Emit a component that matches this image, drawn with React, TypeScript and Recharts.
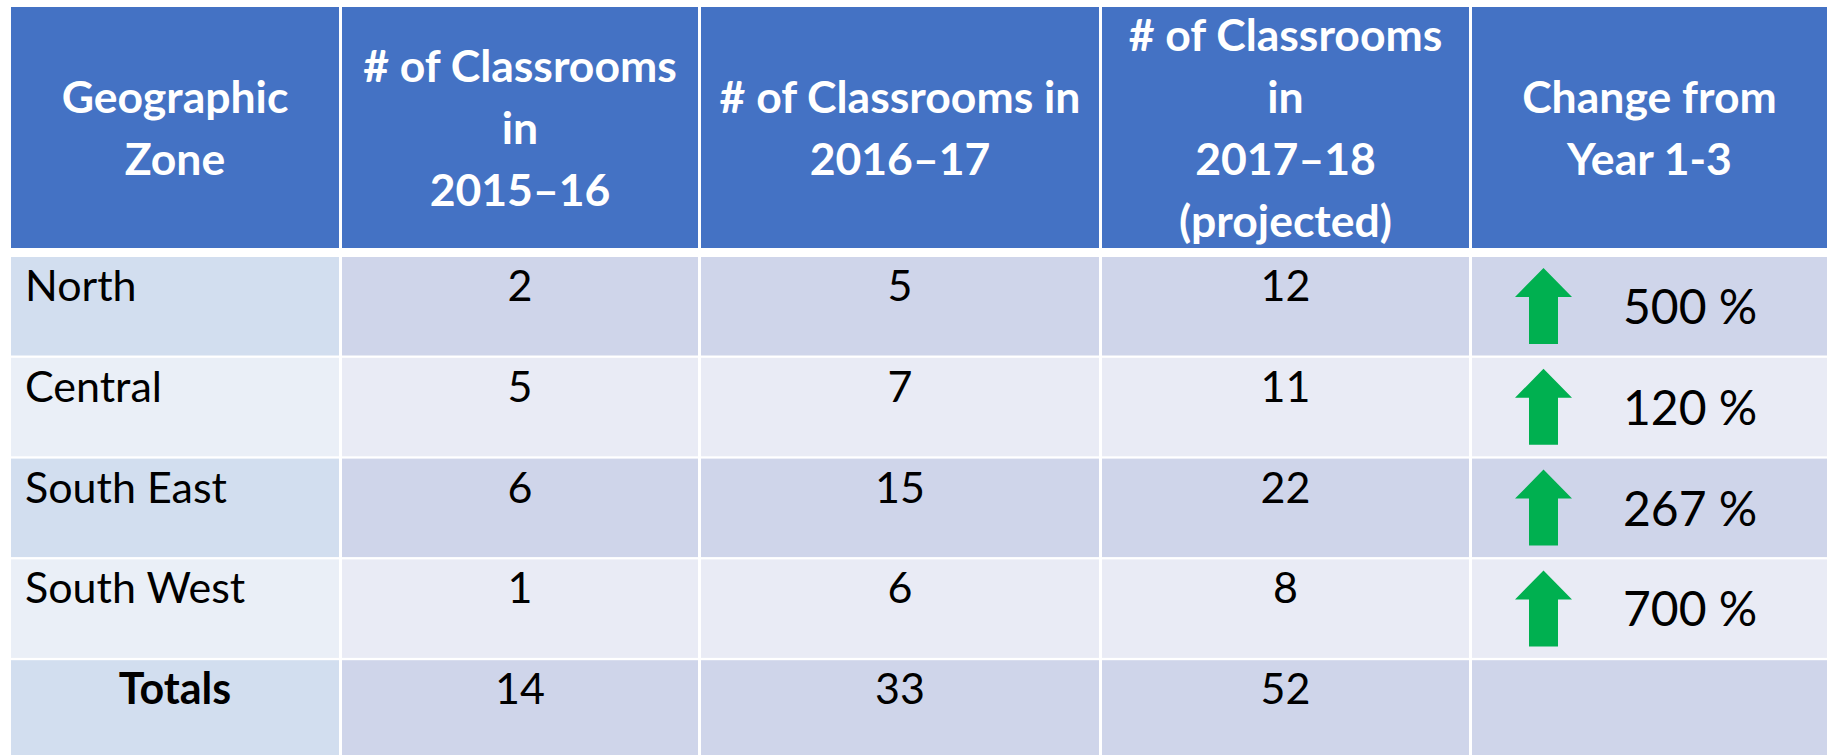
import { ComposedChart, Bar, XAxis, YAxis, Customized } from "recharts";

// table contents
const zones = ["North", "Central", "South East", "South West", "Totals"];
const classrooms2015 = [2, 5, 6, 1, 14];
const classrooms2016 = [5, 7, 15, 6, 33];
const classrooms2017 = [12, 11, 22, 8, 52];
const changeYear1to3 = [500, 120, 267, 700, null];
const headerLabels = [
  ["Geographic", "Zone"],
  ["# of Classrooms", "in", "2015–16"],
  ["# of Classrooms in", "2016–17"],
  ["# of Classrooms", "in", "2017–18", "(projected)"],
  ["Change from", "Year 1-3"],
];

const rows = zones.map((zone, i) => ({
  zone,
  y2015: classrooms2015[i],
  y2016: classrooms2016[i],
  y2017: classrooms2017[i],
  change: changeYear1to3[i],
}));

// column edges (px)
const COLS = [
  [11, 339],
  [342, 698],
  [701, 1099],
  [1102, 1469],
  [1472, 1840],
];
const HEADER_TOP = 7;
const HEADER_BOTTOM = 248;
const FONT = "Lato, 'Open Sans', sans-serif";
const HEADER_BLUE = "#4472C4";

const cellFill = (col, band) => {
  if (col === 0) return band ? "#D2DEEF" : "#EAEFF7";
  return band ? "#CFD5EA" : "#E9EBF5";
};

const RowShape = (props) => {
  const { y, height, index, payload } = props;
  const h = height - 2.5;
  const band = index % 2 === 0;
  const base = y + 44;
  const cells = [payload.y2015, payload.y2016, payload.y2017];
  const isTotal = payload.zone === "Totals";
  const arrowX = 1543.5;
  const tip = y + 11;
  return (
    <g>
      {COLS.map(([x0, x1], c) => (
        <rect key={c} x={x0} y={y} width={x1 - x0} height={h} fill={cellFill(c, band)} />
      ))}
      <text
        x={isTotal ? (COLS[0][0] + COLS[0][1]) / 2 : 25}
        y={base}
        textAnchor={isTotal ? "middle" : "start"}
        fontFamily={FONT}
        fontSize={43}
        fontWeight={isTotal ? 700 : 400}
        fill="#000"
      >
        {payload.zone}
      </text>
      {cells.map((v, c) => (
        <text
          key={c}
          x={(COLS[c + 1][0] + COLS[c + 1][1]) / 2}
          y={base}
          textAnchor="middle"
          fontFamily={FONT}
          fontSize={43}
          fill="#000"
        >
          {v}
        </text>
      ))}
      {payload.change != null && (
        <g>
          <path
            d={`M${arrowX},${tip} L${arrowX + 28.5},${tip + 29} L${arrowX + 14.5},${tip + 29} L${arrowX + 14.5},${tip + 76} L${arrowX - 14.5},${tip + 76} L${arrowX - 14.5},${tip + 29} L${arrowX - 28.5},${tip + 29} Z`}
            fill="#00B050"
          />
          <text x={1623} y={y + 67} fontFamily={FONT} fontSize={48} fill="#000">
            {`${payload.change} %`}
          </text>
        </g>
      )}
    </g>
  );
};

const Header = () => {
  const pitch = 62;
  const center = 129;
  return (
    <g>
      {COLS.map(([x0, x1], c) => {
        const lines = headerLabels[c];
        const first = center - ((lines.length - 1) * pitch) / 2 + 15;
        return (
          <g key={c}>
            <rect x={x0} y={HEADER_TOP} width={x1 - x0} height={HEADER_BOTTOM - HEADER_TOP} fill={HEADER_BLUE} />
            {lines.map((t, i) => (
              <text
                key={i}
                x={(x0 + Math.min(x1, 1827)) / 2}
                y={first + i * pitch}
                textAnchor="middle"
                fontFamily={FONT}
                fontSize={44.5}
                fontWeight={700}
                fill="#fff"
              >
                {t}
              </text>
            ))}
          </g>
        );
      })}
    </g>
  );
};

export default function App() {
  return (
    <div
      style={{
        position: "absolute",
        left: 0,
        top: 0,
        width: 1827,
        height: 755,
        overflow: "hidden",
        background: "#fff",
      }}
    >
      <ComposedChart
        width={1827}
        height={761}
        data={rows}
        layout="vertical"
        margin={{ top: 257, right: 0, bottom: 0, left: 0 }}
        barCategoryGap={0}
        barGap={0}
      >
        <XAxis type="number" hide domain={[0, 60]} />
        <YAxis type="category" dataKey="zone" hide width={0} />
        <Customized component={Header} />
        <Bar dataKey="y2017" shape={RowShape} isAnimationActive={false} />
      </ComposedChart>
    </div>
  );
}
